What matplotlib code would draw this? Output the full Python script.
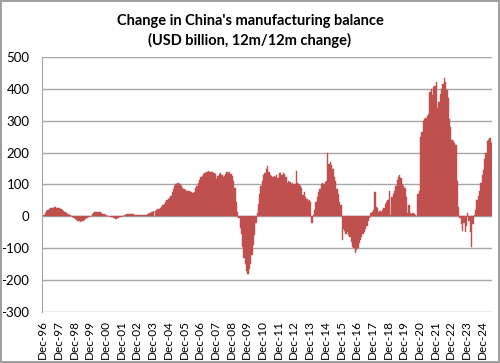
import matplotlib

matplotlib.use("Agg")
import matplotlib.pyplot as plt
import numpy as np
import pandas as pd

plt.rcParams["axes.unicode_minus"] = False  # plain hyphen, as in the source chart

# monthly 12m/12m change, USD bn (Dec-96 .. Jul-25)
dec96 = [-3]
y1997 = [4, 10, 16, 20, 23, 25, 26, 27, 28, 28, 27, 26]
y1998 = [25, 23, 21, 18, 15, 12, 9, 6, 3, 1, -2, -5]
y1999 = [-8, -11, -14, -16, -17, -16, -14, -11, -8, -5, -3, -1]
y2000 = [2, 6, 10, 13, 15, 15, 14, 13, 11, 9, 7, 5]
y2001 = [3, 1, 0, -1, -3, -5, -6, -7, -6, -5, -3, -2]
y2002 = [0, 2, 4, 6, 7, 8, 9, 8, 7, 5, 4, 4]
y2003 = [4, 3, 4, 5, 5, 4, 5, 6, 8, 12, 14, 15]
y2004 = [16, 18, 20, 22, 24, 27, 30, 35, 40, 45, 50, 55]
y2005 = [58, 65, 75, 85, 95, 100, 104, 105, 103, 96, 90, 85]
y2006 = [82, 80, 79, 80, 78, 76, 74, 78, 88, 95, 105, 115]
y2007 = [122, 128, 133, 137, 139, 140, 141, 140, 138, 140, 137, 134]
y2008 = [116, 128, 133, 135, 130, 125, 128, 134, 138, 137, 138, 132]
y2009 = [128, 110, 90, 45, 15, -5, -35, -55, -95, -130, -150, -170]
y2010 = [-182, -165, -150, -120, -90, -60, -20, 10, 40, 70, 95, 110]
y2011 = [130, 137, 150, 157, 140, 130, 128, 125, 128, 122, 130, 121]
y2012 = [137, 135, 130, 136, 133, 125, 104, 110, 108, 100, 105, 98]
y2013 = [100, 141, 105, 100, 95, 90, 67, 75, 62, 55, 48, 50]
y2014 = [45, -22, 5, 20, 45, 60, 75, 85, 100, 104, 100, 108]
y2015 = [110, 200, 165, 170, 160, 150, 125, 110, 85, 70, 45, 35]
y2016 = [-75, -40, -45, -55, -50, -60, -65, -80, -95, -100, -115, -105]
y2017 = [-100, -85, -75, -65, -55, -50, -40, -30, -15, -5, 10, 15]
y2018 = [20, 78, 30, 25, 15, 18, 15, 20, 25, 40, 45, 50]
y2019 = [80, 5, 60, 70, 80, 95, 115, 125, 130, 120, 100, 95]
y2020 = [90, 60, 10, 35, 12, 8, 10, 6, 3, 2, 70, 80]
y2021 = [250, 265, 300, 305, 310, 315, 320, 390, 400, 380, 405, 410]
y2022 = [420, 340, 360, 385, 400, 415, 435, 420, 395, 370, 305, 280]
y2023 = [240, 236, 230, 225, 110, 30, -5, -25, -45, -20, -50, -30]
y2024 = [12, -15, -50, -95, -25, 5, 20, 50, 65, 80, 105, 130]
y2025 = [145, 180, 200, 235, 240, 245, 230]

values = (dec96 + y1997 + y1998 + y1999 + y2000 + y2001 + y2002 + y2003
          + y2004 + y2005 + y2006 + y2007 + y2008 + y2009 + y2010 + y2011
          + y2012 + y2013 + y2014 + y2015 + y2016 + y2017 + y2018 + y2019
          + y2020 + y2021 + y2022 + y2023 + y2024 + y2025)
months = pd.date_range("1996-12-01", periods=len(values), freq="MS")

BAR = "#C0504D"
GRID = "#A6A6A6"

fig = plt.figure(figsize=(5.0, 3.63), dpi=100)
fig.patch.set_edgecolor("#A0A0A0")
fig.patch.set_linewidth(1.5)
ax = fig.add_axes([0.084, 0.1405, 0.9, 0.7025])

x = np.arange(len(values))
ax.bar(x, values, width=1.0, color=BAR, edgecolor=BAR, linewidth=0.3)

ax.set_xlim(-0.5, len(values) - 0.5)
ax.set_ylim(-300, 500)
ax.set_yticks(range(-300, 501, 100))
ax.grid(axis="y", color=GRID, linewidth=1.0)
ax.set_axisbelow(True)

dec_idx = [i for i, m in enumerate(months) if m.month == 12]
ax.set_xticks(dec_idx)
ax.set_xticklabels([months[i].strftime("Dec-%y") for i in dec_idx],
                   rotation=90, fontsize=8.5, family="Lato")
for lab in ax.get_yticklabels():
    lab.set_family("Lato")
    lab.set_fontsize(9.5)
ax.tick_params(axis="both", length=0, colors="black")
ax.tick_params(axis="y", pad=9)
ax.tick_params(axis="x", pad=6)

for side in ("top", "right", "bottom"):
    ax.spines[side].set_visible(False)
ax.spines["left"].set_color(GRID)

fig.text(0.5, 0.962, "Change in China's manufacturing balance\n(USD billion, 12m/12m change)",
         ha="center", va="top", fontsize=10.5, fontweight="bold", family="Lato",
         linespacing=1.45)

fig.savefig("out.png", dpi=100)
